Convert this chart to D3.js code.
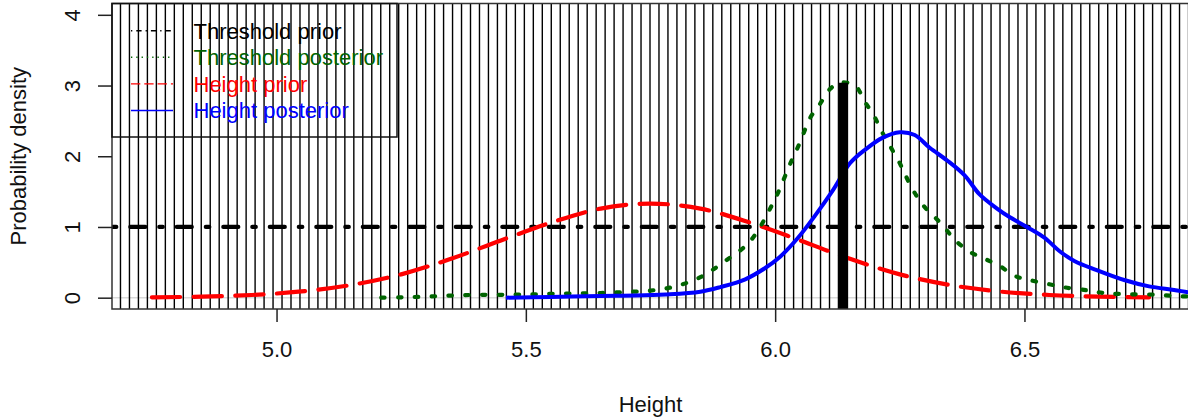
<!DOCTYPE html>
<html>
<head>
<meta charset="utf-8">
<script src="https://cdn.jsdelivr.net/npm/d3@7"></script>
<style>
  body { margin: 0; background: #fff; }
  svg { display: block; font-family: "Liberation Sans", Arial, sans-serif; }
</style>
</head>
<body>
<svg id="chart" width="1188" height="420"></svg>
<script>
// ---- data ----
const xTicks = [5.0, 5.5, 6.0, 6.5];
const yTicks = [0, 1, 2, 3, 4];

// Height prior (red, long dash)
const priorX = [4.75, 4.85, 4.95, 5.05, 5.15, 5.25, 5.35, 5.45, 5.55, 5.65, 5.75, 5.85, 5.95, 6.05, 6.15, 6.25, 6.35, 6.45, 6.55, 6.65, 6.75];
const priorY = [0.005, 0.015, 0.038, 0.088, 0.18, 0.33, 0.55, 0.81, 1.06, 1.26, 1.33, 1.26, 1.06, 0.81, 0.55, 0.33, 0.18, 0.088, 0.038, 0.015, 0.005];

// Threshold posterior (dark green, dotted)
const thrPostX = [5.21, 5.25, 5.30, 5.35, 5.40, 5.45, 5.50, 5.55, 5.60, 5.65, 5.70, 5.75, 5.80, 5.85, 5.90, 5.95, 6.00, 6.03, 6.05, 6.07, 6.09, 6.11, 6.13, 6.16, 6.18, 6.20, 6.21, 6.23, 6.25, 6.26, 6.28, 6.30, 6.32, 6.34, 6.36, 6.39, 6.42, 6.45, 6.48, 6.51, 6.55, 6.58, 6.63, 6.66, 6.70, 6.75, 6.80, 6.85];
const thrPostY = [0.0, 0.005, 0.015, 0.03, 0.04, 0.04, 0.045, 0.055, 0.06, 0.066, 0.08, 0.10, 0.16, 0.29, 0.52, 0.80, 1.40, 1.89, 2.20, 2.54, 2.74, 2.95, 3.04, 3.00, 2.77, 2.55, 2.40, 2.15, 1.90, 1.75, 1.48, 1.28, 1.14, 0.99, 0.82, 0.65, 0.55, 0.45, 0.31, 0.25, 0.19, 0.146, 0.10, 0.065, 0.05, 0.045, 0.025, 0.01];

// Height posterior (blue, solid)
const postX = [5.46, 5.55, 5.65, 5.72, 5.78, 5.85, 5.89, 5.94, 5.98, 6.01, 6.045, 6.08, 6.115, 6.15, 6.18, 6.215, 6.25, 6.28, 6.31, 6.345, 6.38, 6.41, 6.445, 6.47, 6.505, 6.54, 6.57, 6.60, 6.645, 6.70, 6.75, 6.80, 6.83, 6.86];
const postY = [0.0, 0.01, 0.025, 0.03, 0.045, 0.085, 0.15, 0.26, 0.42, 0.58, 0.84, 1.16, 1.51, 1.90, 2.09, 2.26, 2.34, 2.30, 2.12, 1.94, 1.73, 1.46, 1.26, 1.14, 1.0, 0.85, 0.66, 0.52, 0.39, 0.25, 0.16, 0.11, 0.075, 0.05];

// Threshold prior level and the threshold marker
const thrPriorLevel = 1;
const thrMarkX = 6.136;
const thrMarkTop = 3.04;

// vertical reference lines (regular grid)
const vlineStart = 4.687, vlineStep = 0.018, vlineEnd = 6.84;
const vlineX = d3.range(vlineStart, vlineEnd, vlineStep);

const legendLabels = ["Threshold prior", "Threshold posterior", "Height prior", "Height posterior"];
const legendColors = ["#000000", "#006400", "#ff0000", "#0000ff"];
const legendDash = ["1.3,4,5.3,4", "1.3,4", "9.3,4", null];

// ---- layout ----
const pLeft = 112, pRight = 1189, pTop = 3.5, pBottom = 309;
const svg = d3.select("#chart");

const x = d3.scaleLinear().domain([4.75 - 0.08, 6.75 + 0.08]).range([pLeft, pRight]);
const y = d3.scaleLinear().domain([-0.16, 4.16]).range([pBottom, pTop]);

svg.append("defs").append("clipPath").attr("id", "clip")
  .append("rect").attr("x", pLeft).attr("y", pTop).attr("width", pRight - pLeft).attr("height", pBottom - pTop);

const plot = svg.append("g").attr("clip-path", "url(#clip)");

// faint zero line
plot.append("line")
  .attr("x1", pLeft).attr("x2", pRight)
  .attr("y1", y(0)).attr("y2", y(0))
  .attr("stroke", "#d9d9d9").attr("stroke-width", 1.5);

// vertical lines
plot.selectAll("line.v")
  .data(vlineX)
  .enter().append("line")
  .attr("class", "v")
  .attr("x1", d => x(d)).attr("x2", d => x(d))
  .attr("y1", pTop).attr("y2", pBottom)
  .attr("stroke", "#000").attr("stroke-width", 1.4);

const line = d3.line()
  .x(d => x(d[0])).y(d => y(d[1]))
  .curve(d3.curveCatmullRom.alpha(0.5));

// threshold prior (flat)
plot.append("line")
  .attr("x1", pLeft).attr("x2", pRight)
  .attr("y1", y(thrPriorLevel)).attr("y2", y(thrPriorLevel))
  .attr("stroke", "#000").attr("stroke-width", 4.2)
  .attr("stroke-linecap", "round")
  .attr("stroke-dasharray", "15,14,3.5,14")
  .attr("stroke-dashoffset", 28.2);

// height prior
plot.append("path")
  .datum(d3.zip(priorX, priorY))
  .attr("d", line)
  .attr("fill", "none").attr("stroke", "#ff0000").attr("stroke-width", 4.2)
  .attr("stroke-linecap", "round")
  .attr("stroke-dasharray", "28.3,13.4");

// threshold posterior
plot.append("path")
  .datum(d3.zip(thrPostX, thrPostY))
  .attr("d", line)
  .attr("fill", "none").attr("stroke", "#006400").attr("stroke-width", 4.2)
  .attr("stroke-linecap", "round")
  .attr("stroke-dasharray", "3.5,13.3");

// height posterior
plot.append("path")
  .datum(d3.zip(postX, postY))
  .attr("d", line)
  .attr("fill", "none").attr("stroke", "#0000ff").attr("stroke-width", 4)
  .attr("stroke-linejoin", "round");

// threshold marker bar
plot.append("line")
  .attr("x1", x(thrMarkX)).attr("x2", x(thrMarkX))
  .attr("y1", y(-0.5)).attr("y2", y(thrMarkTop))
  .attr("stroke", "#000").attr("stroke-width", 10);

// box
svg.append("rect")
  .attr("x", pLeft).attr("y", pTop)
  .attr("width", pRight - pLeft).attr("height", pBottom - pTop)
  .attr("fill", "none").attr("stroke", "#333").attr("stroke-width", 1.5);

// axes
const xAxis = svg.append("g")
  .attr("transform", `translate(0,${pBottom})`)
  .call(d3.axisBottom(x).tickValues(xTicks).tickSize(13).tickFormat(d3.format(".1f")));
xAxis.select(".domain").remove();
xAxis.selectAll("line").attr("stroke", "#222").attr("stroke-width", 1.5);
xAxis.selectAll("text")
  .attr("y", 48).attr("dy", null)
  .attr("fill", "#111")
  .style("font-size", "22px").style("font-family", "Liberation Sans, Arial, sans-serif");

const yAxis = svg.append("g")
  .attr("transform", `translate(${pLeft},0)`)
  .call(d3.axisLeft(y).tickValues(yTicks).tickSize(14).tickFormat(d3.format("d")));
yAxis.select(".domain").remove();
yAxis.selectAll("line").attr("stroke", "#222").attr("stroke-width", 1.5);
yAxis.selectAll("text")
  .attr("x", null).attr("dy", null)
  .attr("transform", "translate(-32,0) rotate(-90)")
  .attr("text-anchor", "middle")
  .attr("fill", "#111")
  .style("font-size", "22px").style("font-family", "Liberation Sans, Arial, sans-serif");

// axis titles
svg.append("text")
  .attr("x", (pLeft + pRight) / 2).attr("y", 412)
  .attr("text-anchor", "middle")
  .style("font-size", "22px").attr("fill", "#111")
  .text("Height");

svg.append("text")
  .attr("transform", `translate(26,${(pTop + pBottom) / 2}) rotate(-90)`)
  .attr("text-anchor", "middle")
  .style("font-size", "22px").attr("fill", "#111")
  .text("Probability density");

// legend
const legend = svg.append("g");
legend.append("rect")
  .attr("x", pLeft).attr("y", pTop)
  .attr("width", 397 - pLeft).attr("height", 137 - pTop)
  .attr("fill", "none").attr("stroke", "#111").attr("stroke-width", 1.5);

const rowY = d3.scalePoint().domain(legendLabels).range([30.7, 110.5]);

legend.selectAll("line.lg")
  .data(legendLabels)
  .enter().append("line")
  .attr("class", "lg")
  .attr("x1", 131).attr("x2", 173)
  .attr("y1", d => rowY(d)).attr("y2", d => rowY(d))
  .attr("stroke", (d, i) => legendColors[i])
  .attr("stroke-width", 1.4)
  .attr("stroke-dasharray", (d, i) => legendDash[i]);

legend.selectAll("text.lg")
  .data(legendLabels)
  .enter().append("text")
  .attr("class", "lg")
  .attr("x", 193.5).attr("y", d => rowY(d))
  .attr("dy", "0.36em")
  .attr("fill", (d, i) => legendColors[i])
  .style("font-size", "22px")
  .text(d => d);
</script>
</body>
</html>
